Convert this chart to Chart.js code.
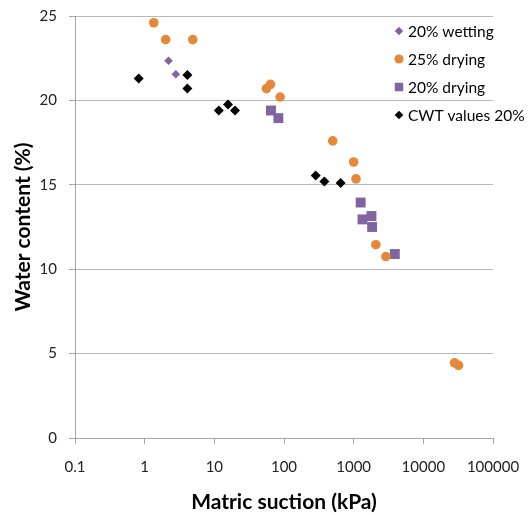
<!DOCTYPE html>
<html>
<head>
<meta charset="utf-8">
<script src="https://cdn.jsdelivr.net/npm/chart.js@4/dist/chart.umd.min.js"></script>
<style>
  html, body { margin: 0; padding: 0; background: #fff; }
  #wrap { width: 528px; height: 515px; }
</style>
</head>
<body>
<div id="wrap"><canvas id="suctionChart" width="528" height="515"></canvas></div>
<script>
// Series (x = matric suction kPa, y = water content %)
const wetting20X = [2.2, 2.8];
const wetting20Y = [22.35, 21.55];

const drying25X = [1.35, 2.0, 4.9, 56, 64, 88, 500, 1000, 1080, 2080, 2900, 28000, 32000];
const drying25Y = [24.6, 23.6, 23.6, 20.7, 20.95, 20.2, 17.6, 16.35, 15.35, 11.45, 10.75, 4.45, 4.3];

const drying20X = [65, 83, 1260, 1340, 1800, 1840, 3900];
const drying20Y = [19.4, 18.95, 13.95, 12.95, 13.15, 12.5, 10.9];

const cwtX = [0.82, 4.1, 4.1, 11.6, 15.7, 19.8, 285, 380, 650];
const cwtY = [21.3, 21.5, 20.7, 19.4, 19.75, 19.4, 15.55, 15.2, 15.1];

// Axis ticks
const xTickValues = [0.1, 1, 10, 100, 1000, 10000, 100000];
const xTickLabels = ['0.1', '1', '10', '100', '1000', '10000', '100000'];
const yTickValues = [0, 5, 10, 15, 20, 25];

const purple = '#8064A2';
const orange = '#E6883A';

function toPoints(xs, ys) {
    return xs.map((x, i) => ({ x: x, y: ys[i] }));
}

// Legend drawn inside the plot area, top right
const insideLegend = {
    id: 'insideLegend',
    afterDraw(chart) {
        const ctx = chart.ctx;
        const legendSizes = [4.2, 4.6, 6, 4.3];
        ctx.save();
        ctx.font = '15.5px Lato';
        ctx.textBaseline = 'middle';
        ctx.textAlign = 'left';
        chart.data.datasets.forEach((ds, i) => {
            const y = 31 + i * 28;
            ctx.fillStyle = ds.backgroundColor;
            ctx.strokeStyle = ds.backgroundColor;
            Chart.helpers.drawPoint(ctx, {
                pointStyle: ds.pointStyle,
                radius: legendSizes[i],
                rotation: 0,
                borderWidth: 0
            }, 399, y);
            ctx.fillStyle = '#000';
            ctx.fillText(ds.label, 408, y + 1);
        });
        ctx.restore();
    }
};

const ctx = document.getElementById('suctionChart').getContext('2d');

new Chart(ctx, {
    type: 'scatter',
    data: {
        datasets: [
            {
                label: '20% wetting',
                data: toPoints(wetting20X, wetting20Y),
                pointStyle: 'rectRot',
                pointRadius: 4.3,
                backgroundColor: purple,
                borderColor: purple,
                borderWidth: 0
            },
            {
                label: '25% drying',
                data: toPoints(drying25X, drying25Y),
                pointStyle: 'circle',
                pointRadius: 4.8,
                backgroundColor: orange,
                borderColor: orange,
                borderWidth: 0
            },
            {
                label: '20% drying',
                data: toPoints(drying20X, drying20Y),
                pointStyle: 'rect',
                pointRadius: 7,
                backgroundColor: purple,
                borderColor: purple,
                borderWidth: 0
            },
            {
                label: 'CWT values 20%',
                data: toPoints(cwtX, cwtY),
                pointStyle: 'rectRot',
                pointRadius: 5,
                backgroundColor: '#000',
                borderColor: '#000',
                borderWidth: 0
            }
        ]
    },
    options: {
        responsive: false,
        animation: false,
        layout: { padding: { left: 0, top: 16, right: 35, bottom: 0 } },
        plugins: {
            legend: { display: false },
            tooltip: { enabled: false }
        },
        scales: {
            x: {
                type: 'logarithmic',
                min: 0.1,
                max: 100000,
                afterBuildTicks: (scale) => {
                    scale.ticks = xTickValues.map(v => ({ value: v }));
                },
                afterFit: (scale) => {
                    scale.height = 77;
                    scale.paddingLeft = 0;
                    scale.paddingRight = 0;
                },
                ticks: {
                    autoSkip: false,
                    maxRotation: 0,
                    padding: 14,
                    color: '#222',
                    font: { family: 'Lato', size: 15 },
                    callback: (value) => {
                        const i = xTickValues.indexOf(value);
                        return i >= 0 ? xTickLabels[i] : null;
                    }
                },
                grid: {
                    drawOnChartArea: false,
                    drawTicks: true,
                    tickLength: 6,
                    color: '#a6a6a6'
                },
                border: { color: '#a6a6a6', width: 1 },
                title: {
                    display: true,
                    text: 'Matric suction (kPa)',
                    color: '#000',
                    font: { family: 'Lato', size: 21, weight: 'bold' },
                    padding: { top: 4, bottom: 0 }
                }
            },
            y: {
                min: 0,
                max: 25,
                afterBuildTicks: (scale) => {
                    scale.ticks = yTickValues.map(v => ({ value: v }));
                },
                afterFit: (scale) => {
                    scale.width = 75;
                    scale.paddingTop = 0;
                    scale.paddingBottom = 0;
                },
                ticks: {
                    padding: 12,
                    color: '#222',
                    font: { family: 'Lato', size: 15 }
                },
                grid: {
                    color: '#b8b8b8',
                    tickLength: 6,
                    tickColor: '#a6a6a6'
                },
                border: { color: '#a6a6a6', width: 1 },
                title: {
                    display: true,
                    text: 'Water content (%)',
                    color: '#000',
                    font: { family: 'Lato', size: 21, weight: 'bold' },
                    padding: { top: 11, bottom: 0 }
                }
            }
        }
    },
    plugins: [insideLegend]
});
</script>
</body>
</html>
